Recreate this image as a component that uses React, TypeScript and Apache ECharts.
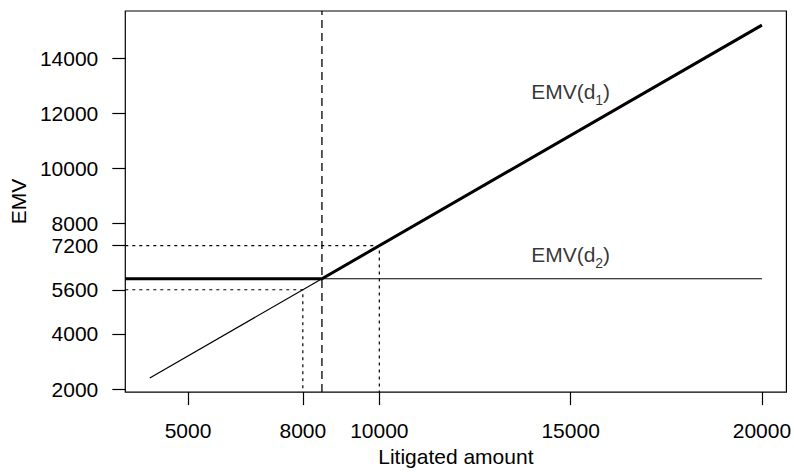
import React, { useEffect, useRef } from "react";
import * as echarts from "echarts";

// Axis ranges (R style 4% extension of data range)
const xRange = [3360, 20640];
const yRange = [1888, 15712];

// Tick labels
const xTicks = [5000, 8000, 10000, 15000, 20000];
const yTicks = [2000, 4000, 5600, 7200, 8000, 10000, 12000, 14000];

// EMV(d1): linear in litigated amount
const d1X = [4000, 8500, 20000];
const d1Y = [2400, 6000, 15200];

// EMV(d2): constant
const d2X = [3360, 8500, 20000];
const d2Y = [6000, 6000, 6000];

// Break-even amount
const breakEvenX = 8500;

// Dotted reference points
const guideX = [8000, 10000];
const guideY = [5600, 7200];

// Curve labels
const labelNames = ["d1", "d2"];
const labelX = [15000, 15000];
const labelY = [12700, 6780];

const FONT = '"Liberation Sans", Arial, Helvetica, sans-serif';

export default function App() {
  const ref = useRef<HTMLDivElement>(null);

  useEffect(() => {
    if (!ref.current) return;
    const chart = echarts.init(ref.current, null, { renderer: "svg" });

    const pts = (xs: number[], ys: number[]) => xs.map((x, i) => [x, ys[i]]);
    const d1 = pts(d1X, d1Y);
    const d2 = pts(d2X, d2Y);

    const lineBase = {
      type: "line",
      symbol: "none",
      silent: true,
      animation: false,
    };

    const guides = guideX.map((gx, i) => ({
      ...lineBase,
      data: [
        [xRange[0], guideY[i]],
        [gx, guideY[i]],
        [gx, yRange[0]],
      ],
      lineStyle: { color: "#000", width: 1.2, type: [3, 4] },
      z: 1,
    }));

    const option = {
      animation: false,
      textStyle: { fontFamily: FONT, color: "#000" },
      grid: {
        left: 122,
        right: 7,
        top: 11,
        bottom: 74,
        show: true,
        borderColor: "#000",
        borderWidth: 1.2,
        backgroundColor: "transparent",
      },
      xAxis: {
        type: "value",
        min: xRange[0],
        max: xRange[1],
        name: "Litigated amount",
        nameLocation: "middle",
        nameGap: 52,
        nameTextStyle: { fontSize: 21, color: "#000", fontFamily: FONT },
        axisLine: { show: false },
        splitLine: { show: false },
        axisTick: {
          show: true,
          inside: false,
          length: 13,
          customValues: xTicks,
          lineStyle: { color: "#000", width: 1.2 },
        },
        axisLabel: {
          customValues: xTicks,
          fontSize: 21,
          color: "#000",
          margin: 28,
          fontFamily: FONT,
          formatter: (v: number) => String(v),
        },
      },
      yAxis: {
        type: "value",
        min: yRange[0],
        max: yRange[1],
        name: "EMV",
        nameLocation: "middle",
        nameGap: 92,
        nameRotate: 90,
        nameTextStyle: { fontSize: 21, color: "#000", fontFamily: FONT },
        axisLine: { show: false },
        splitLine: { show: false },
        axisTick: {
          show: true,
          inside: false,
          length: 13,
          customValues: yTicks,
          lineStyle: { color: "#000", width: 1.2 },
        },
        axisLabel: {
          customValues: yTicks,
          fontSize: 21,
          color: "#000",
          margin: 27,
          fontFamily: FONT,
          formatter: (v: number) => String(v),
        },
      },
      series: [
        ...guides,
        {
          ...lineBase,
          data: [
            [breakEvenX, yRange[0]],
            [breakEvenX, yRange[1]],
          ],
          lineStyle: { color: "#000", width: 1.3, type: [8, 5] },
          z: 2,
        },
        {
          ...lineBase,
          data: [d1[0], d1[1]],
          lineStyle: { color: "#000", width: 1.2 },
          z: 3,
        },
        {
          ...lineBase,
          data: [d2[1], d2[2]],
          lineStyle: { color: "#000", width: 1.2 },
          z: 3,
        },
        {
          ...lineBase,
          data: [d2[0], d2[1], d1[2]],
          lineStyle: { color: "#000", width: 3, cap: "butt", join: "miter" },
          z: 4,
        },
        {
          type: "scatter",
          symbolSize: 0,
          silent: true,
          itemStyle: { color: "#000" },
          data: labelNames.map((n, i) => ({ value: [labelX[i], labelY[i]], name: n })),
          label: {
            show: true,
            position: "inside",
            color: "#000",
            textBorderWidth: 0,
            formatter: (p: any) => `{a|EMV(d}{s|${p.name.slice(1)}}{a|)}`,
            rich: {
              a: { fontSize: 21, color: "#000", fontFamily: FONT, lineHeight: 26, verticalAlign: "top", textBorderWidth: 0 },
              s: { fontSize: 14, color: "#000", fontFamily: FONT, lineHeight: 14, verticalAlign: "bottom", textBorderWidth: 0 },
            },
          },
          z: 5,
        },
      ],
    };

    chart.setOption(option as any);
    return () => chart.dispose();
  }, []);

  return (
    <div
      ref={ref}
      style={{ position: "absolute", left: 0, top: 0, width: 794, height: 472 }}
    />
  );
}
